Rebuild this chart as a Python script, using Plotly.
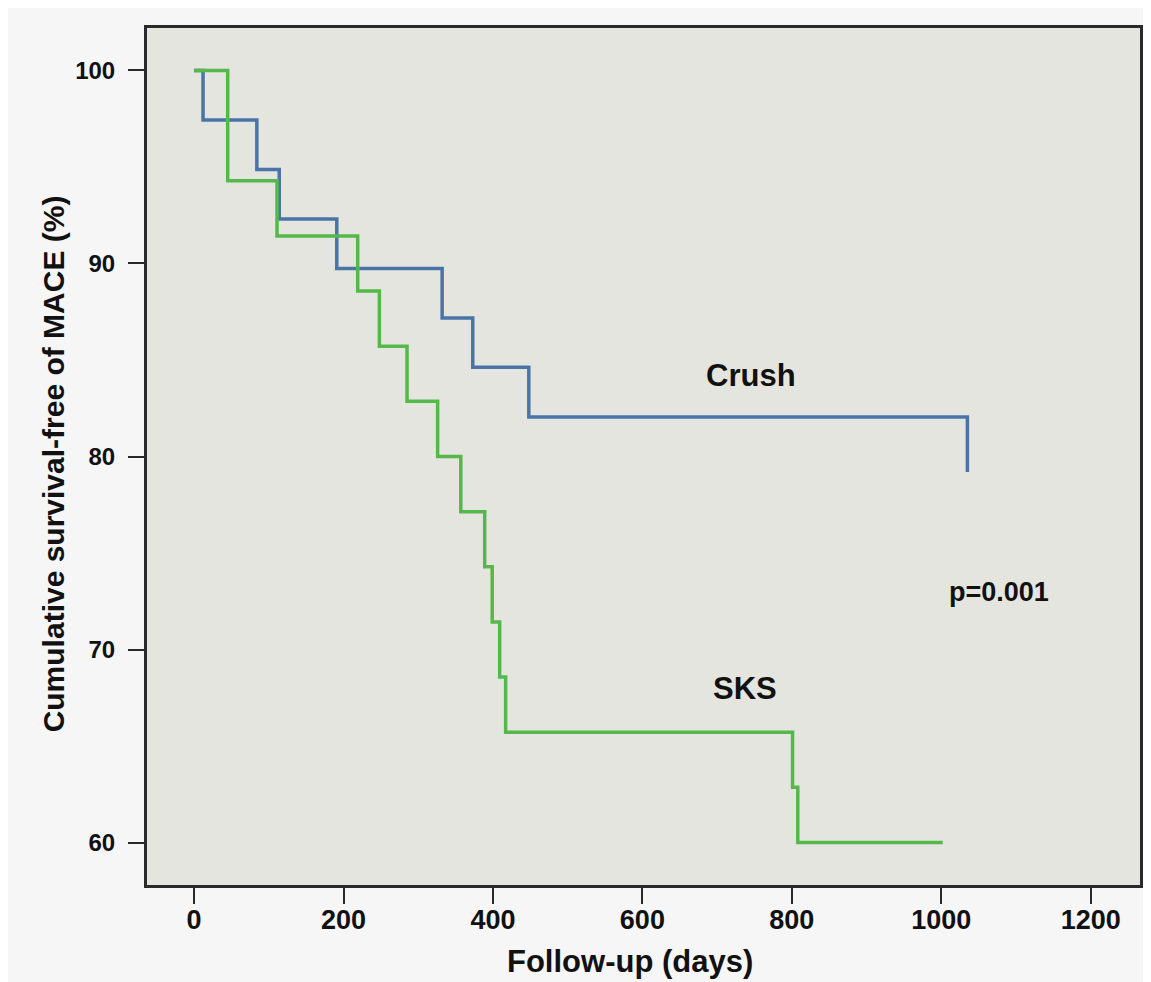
import plotly.graph_objects as go

# Kaplan-Meier step data (days, % survival free of MACE)
crush_days = [0, 12, 84, 114, 191, 332, 373, 448, 1035, 1035]
crush_surv = [100, 97.44, 94.87, 92.31, 89.74, 87.18, 84.62, 82.05, 82.05, 79.2]

sks_days = [0, 45, 111, 219, 248, 285, 326, 357, 389, 399, 409, 417, 801, 808, 1002]
sks_surv = [100, 94.29, 91.43, 88.57, 85.71, 82.86, 80.0, 77.14, 74.29, 71.43, 68.57, 65.71, 62.86, 60.0, 60.0]

x_ticks = [0, 200, 400, 600, 800, 1000, 1200]
y_ticks = [60, 70, 80, 90, 100]

labels = ["Crush", "SKS"]
p_text = "p=0.001"
x_title = "Follow-up (days)"
y_title = "Cumulative survival-free of MACE (%)"

BLUE = "#4a74a8"
GREEN = "#55b84a"
FONT = "Liberation Sans, Arial"

fig = go.Figure()
fig.add_trace(go.Scatter(x=crush_days, y=crush_surv, mode="lines", line_shape="hv",
                         line=dict(color=BLUE, width=3.5), name=labels[0], showlegend=False))
fig.add_trace(go.Scatter(x=sks_days, y=sks_surv, mode="lines", line_shape="hv",
                         line=dict(color=GREEN, width=3.5), name=labels[1], showlegend=False))

fig.add_annotation(x=746, y=84.2, text="<b>" + labels[0] + "</b>", showarrow=False,
                   font=dict(family=FONT, size=31, color="#111"))
fig.add_annotation(x=738, y=68.0, text="<b>" + labels[1] + "</b>", showarrow=False,
                   font=dict(family=FONT, size=31, color="#111"))
fig.add_annotation(x=1077, y=73.0, text="<b>" + p_text + "</b>", showarrow=False,
                   font=dict(family=FONT, size=27, color="#111"))

# axis titles as paper-anchored annotations
fig.add_annotation(xref="paper", yref="paper", x=0.486, y=-0.0898, text="<b>" + x_title + "</b>",
                   showarrow=False, xanchor="center", yanchor="middle",
                   font=dict(family=FONT, size=31, color="#111"))
fig.add_annotation(xref="paper", yref="paper", x=-0.0945, y=0.491, text="<b>" + y_title + "</b>",
                   showarrow=False, textangle=-90, xanchor="center", yanchor="middle",
                   font=dict(family=FONT, size=30, color="#111"))

fig.update_layout(
    width=1143, height=974,
    margin=dict(l=139, r=11, t=20, b=97),
    paper_bgcolor="#f6f6f6",
    plot_bgcolor="#e5e5e0",
    xaxis=dict(
        range=[-63, 1266], tickvals=x_ticks, ticktext=[str(v) for v in x_ticks],
        automargin=False,
        showgrid=False, zeroline=False,
        showline=True, mirror=True, linecolor="#2a2a2a", linewidth=3,
        ticks="outside", ticklen=16, tickwidth=2, tickcolor="#2a2a2a",
        ticklabelstandoff=-7,
        tickfont=dict(family=FONT, size=27, color="#111", weight="bold"),
    ),
    yaxis=dict(
        range=[57.8, 102.2], tickvals=y_ticks, ticktext=[str(v) for v in y_ticks],
        automargin=False,
        showgrid=False, zeroline=False,
        showline=True, mirror=True, linecolor="#2a2a2a", linewidth=3,
        ticks="outside", ticklen=16, tickwidth=2, tickcolor="#2a2a2a",
        ticklabelstandoff=8,
        tickfont=dict(family=FONT, size=24, color="#111", weight="bold"),
    ),
)

fig.write_html("out.html")
